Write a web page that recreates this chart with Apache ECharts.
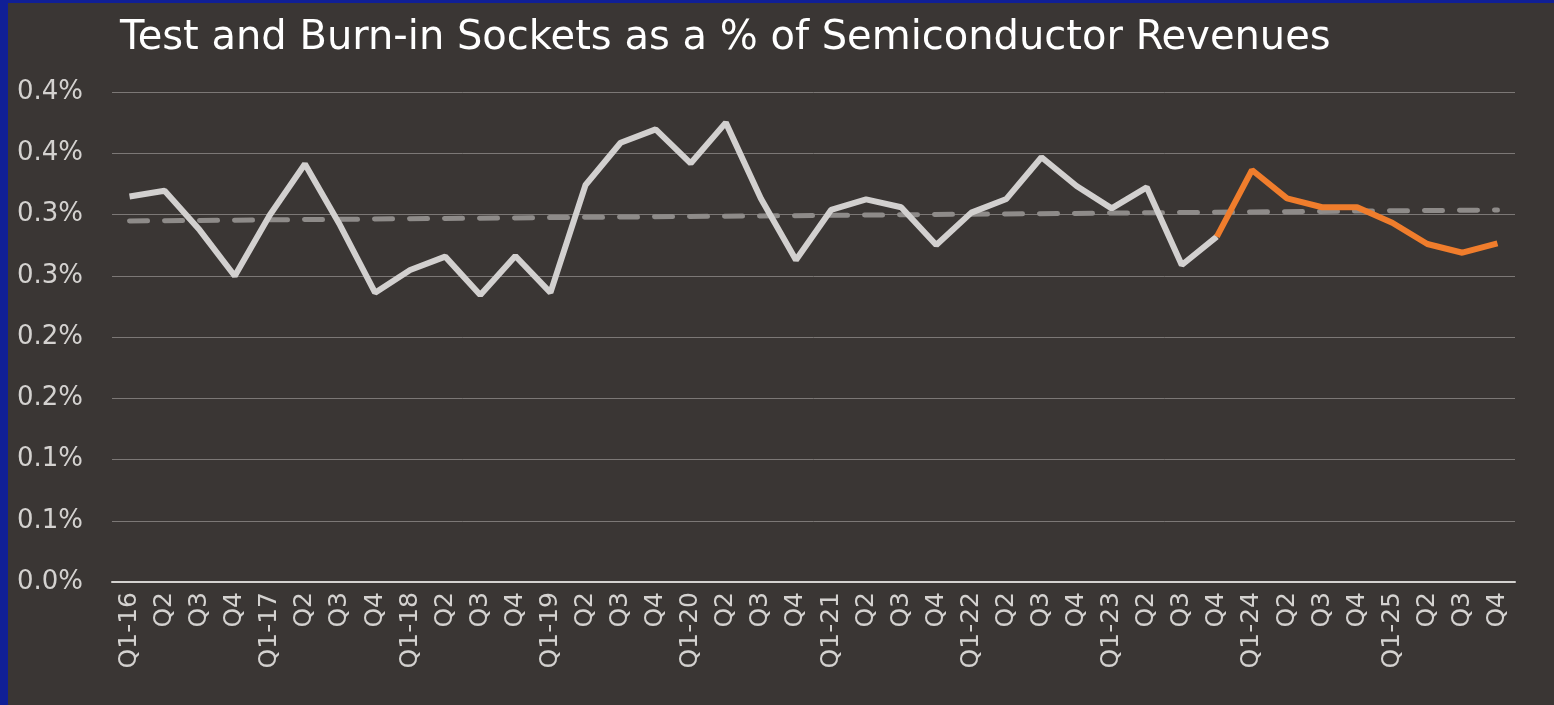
<!DOCTYPE html>
<html>
<head>
<meta charset="utf-8">
<script src="https://cdn.jsdelivr.net/npm/echarts@6/dist/echarts.min.js"></script>
<style>
    body {
        margin: 0;
        background-color: #101f96;
    }
    #chart {
        position: absolute;
        left: 8px;
        top: 3px;
        width: 1546px;
        height: 702px;
        background-color: #3a3634;
    }
</style>
</head>
<body>
<div id="chart"></div>
<script>
// quarters Q1-16 .. Q4-25
var categories = ['Q1-16','Q2','Q3','Q4','Q1-17','Q2','Q3','Q4','Q1-18','Q2','Q3','Q4',
    'Q1-19','Q2','Q3','Q4','Q1-20','Q2','Q3','Q4','Q1-21','Q2','Q3','Q4',
    'Q1-22','Q2','Q3','Q4','Q1-23','Q2','Q3','Q4','Q1-24','Q2','Q3','Q4',
    'Q1-25','Q2','Q3','Q4'];

// share of revenues, in %
var actual = [0.3147,0.3194,0.2873,0.2498,0.2996,0.3412,0.2914,0.2362,0.2547,0.2656,0.2343,0.2661,
    0.2362,0.3241,0.3586,0.3695,0.3418,0.3750,0.3130,0.2629,0.3037,0.3124,0.3059,0.2751,
    0.3015,0.3127,0.3467,0.3233,0.3050,0.3222,0.2588,0.2819];
// forecast starts at Q4-23
var forecastStart = 31;
var forecast = [0.2819,0.3363,0.3132,0.3059,0.3059,0.2933,0.2759,0.2688,0.2765];
// trend line end points (first and last quarter)
var trendEnds = [0.2947, 0.3037];

var yTicks = [0, 0.05, 0.1, 0.15, 0.2, 0.25, 0.3, 0.35, 0.4];

var grayData = categories.map(function (c, i) {
    return i < actual.length ? actual[i] : null;
});
var orangeData = categories.map(function (c, i) {
    return i >= forecastStart ? forecast[i - forecastStart] : null;
});

var font = 'DejaVu Sans';
var labelColor = '#d4d2d0';

var chart = echarts.init(document.getElementById('chart'));
chart.setOption({
    backgroundColor: '#3a3634',
    animation: false,
    title: {
        text: 'Test and Burn-in Sockets as a % of Semiconductor Revenues',
        left: 107,
        top: 11,
        textStyle: {
            color: '#ffffff',
            fontFamily: font,
            fontSize: 40,
            fontWeight: 'normal'
        }
    },
    grid: {
        left: 104,
        right: 39,
        top: 89,
        bottom: 123
    },
    xAxis: {
        type: 'category',
        data: categories,
        boundaryGap: true,
        axisLine: { lineStyle: { color: labelColor, width: 2 } },
        axisTick: { show: false },
        axisLabel: {
            rotate: 90,
            interval: 0,
            color: labelColor,
            fontFamily: font,
            fontSize: 25,
            margin: 10
        }
    },
    yAxis: {
        type: 'value',
        min: yTicks[0],
        max: yTicks[yTicks.length - 1],
        interval: 0.05,
        axisLine: { show: false },
        axisTick: { show: false },
        splitLine: { lineStyle: { color: '#7c7876', width: 1 } },
        axisLabel: {
            color: labelColor,
            fontFamily: font,
            fontSize: 26,
            margin: 29,
            formatter: function (v) {
                return (Math.round(v * 10 + 1e-9) / 10).toFixed(1) + '%';
            }
        }
    },
    series: [
        {
            name: 'Trend',
            type: 'line',
            data: [[categories[0], trendEnds[0]], [categories.length - 1, trendEnds[1]]],
            symbol: 'none',
            z: 1,
            lineStyle: { color: '#8e8b89', width: 5, type: [18, 17], cap: 'round' }
        },
        {
            name: 'Actual',
            type: 'line',
            data: grayData,
            symbol: 'none',
            z: 2,
            lineStyle: { color: '#d2d0cf', width: 6 }
        },
        {
            name: 'Forecast',
            type: 'line',
            data: orangeData,
            symbol: 'none',
            z: 3,
            lineStyle: { color: '#f07d2c', width: 6 }
        }
    ]
});
</script>
</body>
</html>
